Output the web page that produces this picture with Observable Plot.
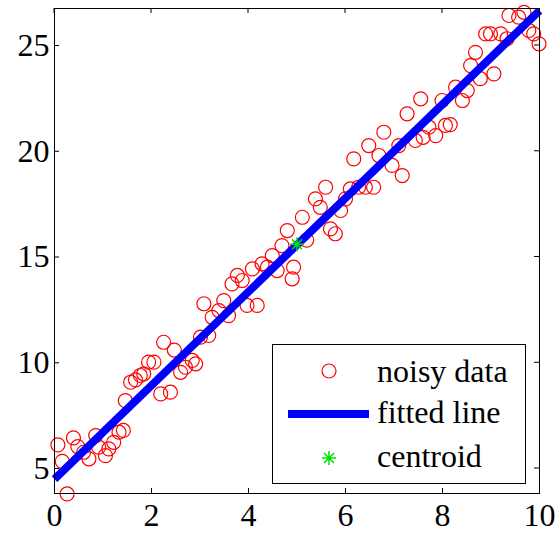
<!DOCTYPE html>
<html><head><meta charset="utf-8">
<script src="https://cdn.jsdelivr.net/npm/d3@7"></script>
<script src="https://cdn.jsdelivr.net/npm/@observablehq/plot@0.6"></script>
<style>
body{margin:0;background:#fff}
</style>
</head><body><div id="chart"></div>
<script>
const noisyX = [0.07,0.16,0.26,0.39,0.48,0.60,0.71,0.85,0.91,1.05,1.12,1.22,1.33,1.42,1.46,1.57,1.67,1.77,1.84,1.94,2.05,2.19,2.25,2.39,2.47,2.60,2.70,2.84,2.91,3.01,3.08,3.18,3.25,3.39,3.49,3.59,3.66,3.77,3.87,3.97,4.08,4.18,4.28,4.39,4.49,4.59,4.69,4.80,4.90,4.93,5.11,5.20,5.38,5.48,5.59,5.69,5.79,5.90,6.00,6.10,6.17,6.27,6.41,6.48,6.58,6.69,6.79,6.96,7.10,7.17,7.27,7.44,7.55,7.60,7.72,7.86,7.99,8.06,8.16,8.27,8.41,8.51,8.58,8.68,8.78,8.89,8.99,9.06,9.20,9.33,9.37,9.57,9.68,9.78,9.88,9.99];
const noisyY = [6.12,5.34,3.80,6.45,6.04,5.77,5.46,6.56,6.01,5.61,5.93,6.24,6.72,6.80,8.21,9.08,9.19,9.40,9.48,10.03,10.03,8.53,10.97,8.61,10.6,9.55,9.79,10.11,9.95,11.21,12.79,11.29,12.15,12.47,12.94,12.23,13.73,14.13,13.89,12.71,14.44,12.71,14.68,14.52,15.07,14.36,15.54,16.25,13.97,14.52,16.88,15.8,17.75,17.35,18.30,16.33,16.10,17.20,17.75,18.22,19.64,18.30,18.30,20.27,18.30,19.80,20.90,19.33,20.27,18.85,21.77,20.51,22.48,20.66,21.14,20.74,22.40,21.22,21.26,23.03,22.40,22.87,24.05,24.68,23.43,25.55,25.55,23.66,25.55,25.32,26.42,26.34,26.57,25.71,25.55,25.08];
const fitX = [0, 10];
const fitY = [4.5, 26.65];
const centroidX = [5.0];
const centroidY = [15.6];
const xTicks = [0, 2, 4, 6, 8, 10];
const yTicks = [5, 10, 15, 20, 25];
const legendLabels = ["noisy data", "fitted line", "centroid"];

const noisy = noisyX.map((x, i) => ({x, y: noisyY[i]}));
const fit = fitX.map((x, i) => ({x, y: fitY[i]}));
const cen = centroidX.map((x, i) => ({x, y: centroidY[i]}));

const font = "'Liberation Serif'";
const FS = "32px";
const RED = "#ff0000", BLUE = "#0000ff", GREEN = "#00e000";
const W = 555, H = 538, ML = 54, MR = 16, MT = 8, MB = 45;

// MATLAB-style '*' marker: a plus and a cross of equal arm length
const asterisk = {
  draw(ctx, size) {
    const r = Math.sqrt(size / Math.PI), d = r * Math.SQRT1_2;
    ctx.moveTo(0, -r); ctx.lineTo(0, r);
    ctx.moveTo(-r, 0); ctx.lineTo(r, 0);
    ctx.moveTo(-d, -d); ctx.lineTo(d, d);
    ctx.moveTo(-d, d); ctx.lineTo(d, -d);
  }
};

const svg = Plot.plot({
  width: W, height: H,
  marginLeft: ML, marginRight: MR, marginTop: MT, marginBottom: MB,
  style: {background: "#fff", overflow: "visible", color: "#000"},
  x: {domain: [0, 10], ticks: xTicks.length, tickSize: -5, tickPadding: 15, label: null},
  y: {domain: [3.82, 26.75], ticks: yTicks.length, tickSize: -5, tickPadding: 10, label: null},
  marks: [
    Plot.dot(noisy, {x: "x", y: "y", r: 7, stroke: RED, strokeWidth: 1.2, fill: "none"}),
    Plot.line(fit, {x: "x", y: "y", stroke: BLUE, strokeWidth: 8, strokeLinecap: "butt"}),
    Plot.dot(cen, {x: "x", y: "y", symbol: asterisk, r: 7, stroke: GREEN, fill: "none", strokeWidth: 1.5}),
    Plot.frame({stroke: "#000", strokeWidth: 1})
  ]
});
document.getElementById("chart").appendChild(svg);

const root = d3.select(svg);
root.selectAll("[aria-label='x-axis'] path.domain, [aria-label='y-axis'] path.domain").remove();
const styleText = el => {
  el.style.setProperty("font-family", font, "important");
  el.style.setProperty("font-size", FS, "important");
  el.setAttribute("fill", "#000");
};
root.selectAll("text").each(function() { styleText(this); });

// inward ticks on the top and right sides (box on), placed through Plot's own scales
const sx = svg.scale("x"), sy = svg.scale("y");
const bt = root.append("g").attr("stroke", "#000").attr("stroke-width", 1);
xTicks.forEach(v => { const px = sx.apply(v);
  bt.append("line").attr("x1", px).attr("x2", px).attr("y1", MT).attr("y2", MT + 5); });
yTicks.forEach(v => { const py = sy.apply(v);
  bt.append("line").attr("x1", W - MR).attr("x2", W - MR - 5).attr("y1", py).attr("y2", py); });

// legend box (inside the axes, lower right)
const lg = root.append("g").attr("text-anchor", "start");
lg.append("rect").attr("x", 272.5).attr("y", 344.5).attr("width", 253).attr("height", 139)
  .attr("fill", "#fff").attr("stroke", "#000").attr("stroke-width", 1);
lg.append("circle").attr("cx", 329).attr("cy", 371).attr("r", 7)
  .attr("fill", "none").attr("stroke", RED).attr("stroke-width", 1.2);
lg.append("line").attr("x1", 288).attr("x2", 369).attr("y1", 414).attr("y2", 414)
  .attr("stroke", BLUE).attr("stroke-width", 8);
lg.append("path").attr("transform", "translate(329,458)")
  .attr("d", (() => { const p = d3.path(); asterisk.draw(p, Math.PI * 49); return p.toString(); })())
  .attr("stroke", GREEN).attr("stroke-width", 1.5).attr("fill", "none");
const baselines = [382, 423, 467];
legendLabels.forEach((t, i) => {
  const el = lg.append("text").attr("x", 377).attr("y", baselines[i]).attr("text-anchor", "start").text(t).node();
  styleText(el);
});
</script>
</body></html>
